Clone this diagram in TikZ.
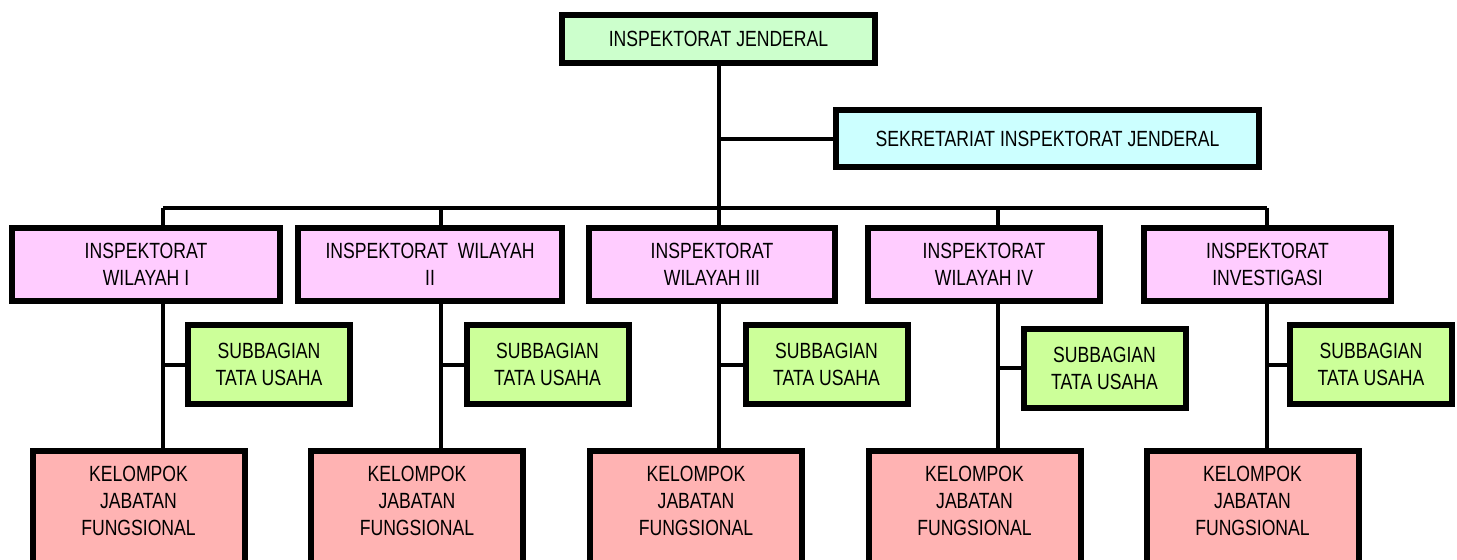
\documentclass[tikz,border=0pt]{standalone}
\usepackage{fontspec}
\setmainfont{Liberation Sans}[FakeStretch=0.8]
\usepackage{tikz}
\usetikzlibrary{calc}
\definecolor{ijgreen}{HTML}{CCFFCC}
\definecolor{sekcyan}{HTML}{CCFFFF}
\definecolor{wilpink}{HTML}{FFCCFF}
\definecolor{subgreen}{HTML}{CCFF99}
\definecolor{kelred}{HTML}{FFB3B3}
\tikzset{unit/.style={draw, line width=3pt, align=center, inner sep=0pt,
    font=\fontsize{11}{13.5}\selectfont}}
\tikzset{wilayah/.style={unit, fill=wilpink, minimum height=36.5pt}}
\tikzset{subbag/.style={unit, fill=subgreen, minimum width=81pt, minimum height=39.5pt}}
\tikzset{kelompok/.style={unit, fill=kelred, anchor=north}}
\tikzset{link/.style={line width=2pt}}
\tikzset{bus/.style={line width=1.6pt}}

\begin{document}
\begin{tikzpicture}[x=0.5pt,y=-0.5pt]
  \useasboundingbox (0,0) rectangle (1457,559);
  \clip (0,0) rectangle (1457,559);
  \node[unit, fill=ijgreen, minimum width=156.5pt, minimum height=24pt] (ij) at (718.5,39) {INSPEKTORAT JENDERAL};
  \node[unit, fill=sekcyan, minimum width=211.5pt, minimum height=28.5pt] (sek) at (1047.5,138.5) {SEKRETARIAT INSPEKTORAT JENDERAL};
  \foreach \lab/\cx/\wx/\ww/\sx/\sy/\kx/\txt in {
    1/163/146/134/269/364.5/138.5/{INSPEKTORAT\\WILAYAH I},
    2/441/430/132/547.5/364.5/417/{INSPEKTORAT\ \ WILAYAH\\II},
    3/719/712/123/826.5/364.5/696/{INSPEKTORAT\\WILAYAH III},
    4/998/984/116/1104.5/368/974.5/{INSPEKTORAT\\WILAYAH IV},
    5/1267/1267.5/123.5/1371/364.5/1252.5/{INSPEKTORAT\\INVESTIGASI}%
  } {
    \node[wilayah, minimum width=\ww pt] (w\lab) at (\wx,264.5) {\txt};
    \node[subbag] (s\lab) at (\sx,\sy) {SUBBAGIAN\\TATA USAHA};
    \node[kelompok] (k\lab) at (\kx,448)
      {\parbox[t][70pt][t]{106pt}{\centering\vspace*{7.5pt}KELOMPOK\\JABATAN\\FUNGSIONAL}};
    \coordinate (b\lab) at (\cx,208);
  }
  \draw[link] (ij.south) -- (ij.south |- b3);
  \draw[link] (ij.south |- sek.west) -- (sek.west);
  \draw[bus] (b1) -- (b5);
  \foreach \lab in {1,...,5}{
    \draw[link] (b\lab) -- (b\lab |- w\lab.north);
    \draw[link] (w\lab.south -| b\lab) -- (k\lab.north -| b\lab);
    \draw[link] (b\lab |- s\lab.west) -- (s\lab.west);
  }
\end{tikzpicture}
\end{document}
